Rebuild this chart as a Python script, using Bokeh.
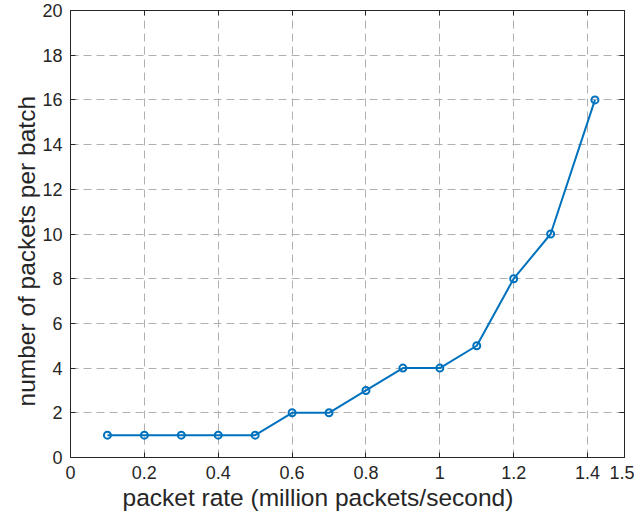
from bokeh.plotting import figure
from bokeh.models import FixedTicker, LinearAxis, Range1d, Title
from bokeh.embed import file_html
from bokeh.resources import INLINE

rate = [0.1, 0.2, 0.3, 0.4, 0.5, 0.6, 0.7, 0.8, 0.9, 1.0, 1.1, 1.2, 1.3, 1.42]
batch = [1, 1, 1, 1, 1, 2, 2, 3, 4, 4, 5, 8, 10, 16]
x_ticks = [0, 0.2, 0.4, 0.6, 0.8, 1.0, 1.2, 1.4, 1.5]
x_tick_labels = ["0", "0.2", "0.4", "0.6", "0.8", "1", "1.2", "1.4", "1.5"]
y_ticks = [0, 2, 4, 6, 8, 10, 12, 14, 16, 18, 20]
x_label = "packet rate (million packets/second)"
y_label = "number of packets per batch"

FONT = "Liberation Sans"
AX = "#262626"
BLUE = "#0072BD"

p = figure(width=634, height=515, output_backend="svg", toolbar_location=None,
           x_range=Range1d(0, 1.5), y_range=Range1d(0, 20),
           min_border_left=70, min_border_right=10, min_border_top=10, min_border_bottom=58)
p.outline_line_color = AX
p.outline_line_width = 1

def style_axis(ax, labels=True):
    ax.axis_line_color = AX
    ax.major_tick_line_color = AX
    ax.major_tick_in = 5
    ax.major_tick_out = 0
    ax.minor_tick_line_color = None
    ax.major_label_text_font = FONT
    ax.major_label_text_font_size = "18px"
    ax.major_label_text_color = AX
    if not labels:
        ax.major_label_text_font_size = "0px"
        ax.major_label_text_color = None

p.xaxis.ticker = FixedTicker(ticks=x_ticks)
p.xaxis.major_label_overrides = {t: l for t, l in zip(x_ticks, x_tick_labels)}
p.yaxis.ticker = FixedTicker(ticks=y_ticks)
p.xaxis.major_label_standoff = 8
p.yaxis.major_label_standoff = 8
style_axis(p.xaxis[0])
style_axis(p.yaxis[0])

top = LinearAxis(ticker=FixedTicker(ticks=x_ticks))
right = LinearAxis(ticker=FixedTicker(ticks=y_ticks))
style_axis(top, labels=False)
style_axis(right, labels=False)
top.major_label_standoff = 0
right.major_label_standoff = 0
p.add_layout(top, "above")
p.add_layout(right, "right")

xt = Title(text=x_label, align="left", offset=52, text_font=FONT,
           text_font_size="24.5px", text_font_style="normal", text_color=AX, standoff=0)
yt = Title(text=y_label, align="left", offset=51, text_font=FONT,
           text_font_size="24.5px", text_font_style="normal", text_color=AX, standoff=0)
p.add_layout(xt, "below")
p.add_layout(yt, "left")

p.xgrid.ticker = FixedTicker(ticks=x_ticks[1:-1])
p.ygrid.ticker = FixedTicker(ticks=y_ticks[1:-1])
for g in (p.xgrid[0], p.ygrid[0]):
    g.grid_line_color = "#b0b0b0"
    g.grid_line_dash = "8 5"
    g.grid_line_width = 1

p.line(rate, batch, line_color=BLUE, line_width=2)
p.scatter(rate, batch, marker="circle", size=7, line_color=BLUE, line_width=2,
          fill_color=None)

open("out.html", "w").write(file_html(p, INLINE))
